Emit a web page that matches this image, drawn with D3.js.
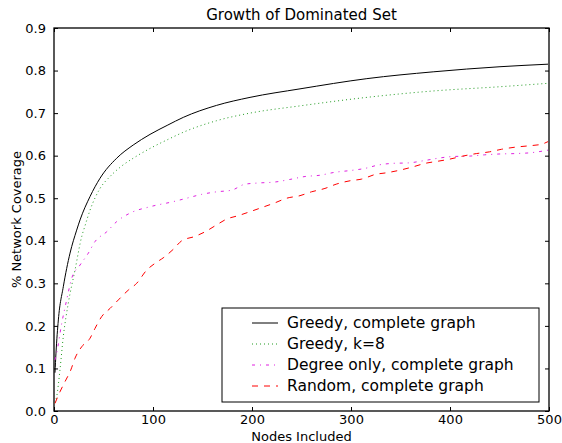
<!DOCTYPE html>
<html>
<head>
<meta charset="utf-8">
<script src="https://cdn.jsdelivr.net/npm/d3@7"></script>
<style>
  body { margin: 0; background: #fff; }
  text { font-family: "DejaVu Sans", sans-serif; fill: #000; }
</style>
</head>
<body>
<div id="chart"></div>
<script>
// values
const greedyX = [1, 2, 4.4, 9.4, 16.2, 22.9, 26.3, 36.4, 46.5, 63.3, 80, 97, 115, 130.6, 164, 198, 248.5, 316, 383, 450.5, 499];
const greedyY = [0.09, 0.136, 0.214, 0.292, 0.371, 0.425, 0.449, 0.504, 0.547, 0.594, 0.625, 0.650, 0.672, 0.690, 0.718, 0.737, 0.757, 0.781, 0.797, 0.809, 0.815];

const greedyK8X = [1, 2.7, 6, 9.4, 14.4, 21.2, 28, 31.3, 36.4, 46.5, 56.6, 68, 80, 97, 115, 130.6, 164, 198, 248.5, 316, 383, 450.5, 499];
const greedyK8Y = [0.02, 0.034, 0.096, 0.175, 0.253, 0.331, 0.41, 0.435, 0.472, 0.523, 0.551, 0.575, 0.594, 0.617, 0.638, 0.655, 0.682, 0.70, 0.717, 0.737, 0.752, 0.762, 0.77];

const degreeX = [1, 2.7, 7.8, 12.8, 17.9, 26.3, 34.7, 41.4, 53.2, 63.3, 76.8, 97, 120.5, 134, 149, 164, 179.5, 193, 208, 223, 238, 253.5, 268.7, 283.8, 299, 314, 327.6, 342.7, 357.9, 373, 388, 403, 420, 435, 450.5, 467, 482, 499];
const degreeY = [0.12, 0.136, 0.206, 0.261, 0.312, 0.343, 0.371, 0.398, 0.421, 0.445, 0.465, 0.48, 0.492, 0.50, 0.509, 0.515, 0.519, 0.533, 0.536, 0.538, 0.544, 0.551, 0.554, 0.561, 0.565, 0.57, 0.578, 0.582, 0.583, 0.588, 0.594, 0.598, 0.599, 0.602, 0.604, 0.605, 0.607, 0.613];

const randomX = [1, 6, 11.1, 16.9, 21.2, 28, 36.4, 41.4, 48.2, 56.6, 65, 75, 83.5, 93.6, 102, 111, 120.5, 129, 142, 152.5, 164, 174.4, 186, 200, 211, 223, 235, 248.5, 260, 273.7, 285, 299, 310.8, 324.7, 336.5, 349.5, 363, 375, 388, 400, 413, 427, 440, 452, 466, 479, 492.6, 499];
const randomY = [0.018, 0.045, 0.069, 0.096, 0.124, 0.151, 0.171, 0.194, 0.222, 0.241, 0.261, 0.284, 0.30, 0.331, 0.347, 0.361, 0.38, 0.40, 0.41, 0.421, 0.437, 0.451, 0.459, 0.47, 0.479, 0.489, 0.50, 0.506, 0.515, 0.523, 0.533, 0.541, 0.545, 0.556, 0.56, 0.566, 0.574, 0.582, 0.587, 0.592, 0.599, 0.605, 0.609, 0.615, 0.62, 0.623, 0.627, 0.633];

const seriesNames = ["Greedy, complete graph", "Greedy, k=8", "Degree only, complete graph", "Random, complete graph"];
const xTicks = [0, 100, 200, 300, 400, 500];
const yTicks = [0, 0.1, 0.2, 0.3, 0.4, 0.5, 0.6, 0.7, 0.8, 0.9];

const series = [
  { name: seriesNames[0], xs: greedyX, ys: greedyY, color: "#000000", dash: null },
  { name: seriesNames[1], xs: greedyK8X, ys: greedyK8Y, color: "#1f9a1f", dash: "1,3" },
  { name: seriesNames[2], xs: degreeX, ys: degreeY, color: "#e020e0", dash: "3,5,1,5" },
  { name: seriesNames[3], xs: randomX, ys: randomY, color: "#ff0000", dash: "6,6" },
];

const W = 562, H = 443;
const margin = { top: 28, right: 13, bottom: 32, left: 54 };
const innerW = W - margin.left - margin.right;
const innerH = H - margin.top - margin.bottom;

const svg = d3.select("#chart").append("svg")
  .attr("width", W)
  .attr("height", H);

const x = d3.scaleLinear().domain([0, 500]).range([0, innerW]);
const y = d3.scaleLinear().domain([0, 0.9]).range([innerH, 0]);

const g = svg.append("g")
  .attr("transform", "translate(" + margin.left + "," + margin.top + ")");

// axes, matplotlib style: ticks pointing inward on every side
const xAxis = d3.axisBottom(x).tickValues(xTicks).tickSizeInner(-4).tickSizeOuter(0).tickPadding(4);
const yAxis = d3.axisLeft(y).tickValues(yTicks).tickFormat(d3.format(".1f")).tickSizeInner(-4).tickSizeOuter(0).tickPadding(8);
const xTop = d3.axisTop(x).tickValues(xTicks).tickSizeInner(-4).tickSizeOuter(0).tickFormat("");
const yRight = d3.axisRight(y).tickValues(yTicks).tickSizeInner(-4).tickSizeOuter(0).tickFormat("");

g.append("g").attr("transform", "translate(0," + innerH + ")").call(xAxis);
g.append("g").call(yAxis);
g.append("g").call(xTop);
g.append("g").attr("transform", "translate(" + innerW + ",0)").call(yRight);

g.selectAll(".domain").remove();
g.selectAll(".tick line").attr("stroke", "#000").attr("stroke-width", 1);
g.selectAll(".tick text").style("font-size", "13px").style("font-family", "DejaVu Sans, sans-serif").attr("fill", "#000");

// frame
g.append("rect")
  .attr("x", 0).attr("y", 0)
  .attr("width", innerW).attr("height", innerH)
  .attr("fill", "none")
  .attr("stroke", "#000")
  .attr("stroke-width", 1.3);

const line = d3.line()
  .curve(d3.curveMonotoneX)
  .x((d) => x(d[0]))
  .y((d) => y(d[1]));

series.forEach((s) => {
  const pts = s.xs.map((v, i) => [v, s.ys[i]]);
  g.append("path")
    .datum(pts)
    .attr("fill", "none")
    .attr("stroke", s.color)
    .attr("stroke-width", 1)
    .attr("stroke-dasharray", s.dash)
    .attr("d", line);
});

// legend
const legend = svg.append("g").attr("transform", "translate(222,308)");
legend.append("rect")
  .attr("width", 317).attr("height", 94)
  .attr("fill", "#fff")
  .attr("stroke", "#000")
  .attr("stroke-width", 1);

series.forEach((s, i) => {
  const ly = 15 + i * 21;
  legend.append("line")
    .attr("x1", 30).attr("x2", 56)
    .attr("y1", ly).attr("y2", ly)
    .attr("stroke", s.color)
    .attr("stroke-width", 1)
    .attr("stroke-dasharray", s.dash);
  legend.append("text")
    .attr("x", 65).attr("y", ly)
    .attr("dy", "0.35em")
    .style("font-size", "15.5px")
    .text(s.name);
});

// titles
svg.append("text")
  .attr("x", margin.left + innerW / 2).attr("y", 20)
  .attr("text-anchor", "middle")
  .style("font-size", "15px")
  .text("Growth of Dominated Set");

svg.append("text")
  .attr("x", margin.left + innerW / 2).attr("y", 441)
  .attr("text-anchor", "middle")
  .style("font-size", "13px")
  .text("Nodes Included");

svg.append("text")
  .attr("transform", "translate(21," + (margin.top + innerH / 2) + ") rotate(-90)")
  .attr("text-anchor", "middle")
  .style("font-size", "13px")
  .text("% Network Coverage");
</script>
</body>
</html>
